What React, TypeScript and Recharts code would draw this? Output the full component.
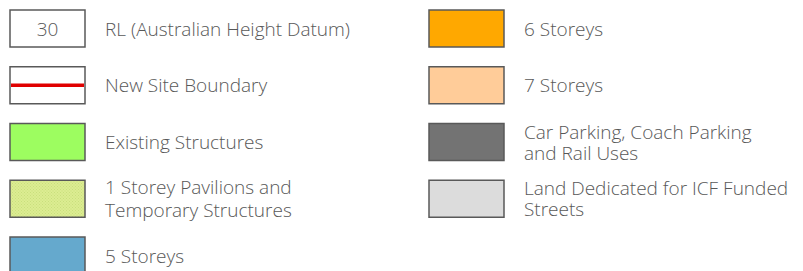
import { ScatterChart, Scatter, XAxis, YAxis } from 'recharts'

// legend entries: column, row, label lines, swatch kind
const labels = [
  ['RL (Australian Height Datum)'],
  ['New Site Boundary'],
  ['Existing Structures'],
  ['1 Storey Pavilions and', 'Temporary Structures'],
  ['5 Storeys'],
  ['6 Storeys'],
  ['7 Storeys'],
  ['Car Parking, Coach Parking', 'and Rail Uses'],
  ['Land Dedicated for ICF Funded', 'Streets'],
]
const cols = [0, 0, 0, 0, 0, 1, 1, 1, 1]
const rows = [0, 1, 2, 3, 4, 0, 1, 2, 3]
const kinds = ['rl', 'boundary', 'fill', 'hatch', 'fill', 'fill', 'fill', 'fill', 'fill']
const fills = ['#ffffff', '#ffffff', '#9dfd60', 'url(#hatch)', '#65a9cd', '#ffa800', '#ffcc99', '#737373', '#dcdcdc']

const data = labels.map((lines, i) => ({
  col: cols[i],
  row: rows[i],
  lines,
  kind: kinds[i],
  fill: fills[i],
}))

const SW = 75
const SH = 37
const TEXT = '#585858'
const FONT = '"Open Sans", sans-serif'
const SIZE = 19

function LegendItem(props: any) {
  const { cx, cy, payload } = props
  const x = cx
  const y = cy
  const lineH = payload.col === 0 ? 23 : 21
  const n = payload.lines.length
  const midY = y + SH / 2
  return (
    <g>
      <rect x={x} y={y} width={SW} height={SH} fill={payload.fill} stroke="#595959" strokeWidth={1.5} />
      {payload.kind === 'boundary' && (
        <line x1={x + 1} x2={x + SW - 1} y1={midY} y2={midY} stroke="#e00000" strokeWidth={3.5} />
      )}
      {payload.kind === 'rl' && (
        <text x={x + SW / 2} y={midY} textAnchor="middle" dominantBaseline="central"
          fontFamily={FONT} fontSize={SIZE} fill={TEXT} fontWeight={300}>30</text>
      )}
      {payload.lines.map((l: string, i: number) => (
        <text key={i} x={x + 95} y={midY + (i - (n - 1) / 2) * lineH} dominantBaseline="central"
          fontFamily={FONT} fontSize={SIZE} fill={TEXT} fontWeight={300}>
          {l}
        </text>
      ))}
    </g>
  )
}

export default function App() {
  return (
    <div style={{ position: 'absolute', left: 0, top: 0, background: '#fff' }}>
      <ScatterChart width={803} height={271} margin={{ top: 10, right: 374, bottom: 34, left: 10 }}>
        <defs>
          <pattern id="hatch" width={3} height={3} patternUnits="userSpaceOnUse">
            <rect width={3} height={3} fill="#dcec92" />
            <rect width={1} height={1} fill="#c9e07c" />
            <rect x={1.5} y={1.5} width={1} height={1} fill="#c9e07c" />
          </pattern>
        </defs>
        <XAxis type="number" dataKey="col" domain={[0, 1]} hide />
        <YAxis type="number" dataKey="row" domain={[0, 4]} reversed hide />
        <Scatter data={data} shape={<LegendItem />} isAnimationActive={false} />
      </ScatterChart>
    </div>
  )
}
